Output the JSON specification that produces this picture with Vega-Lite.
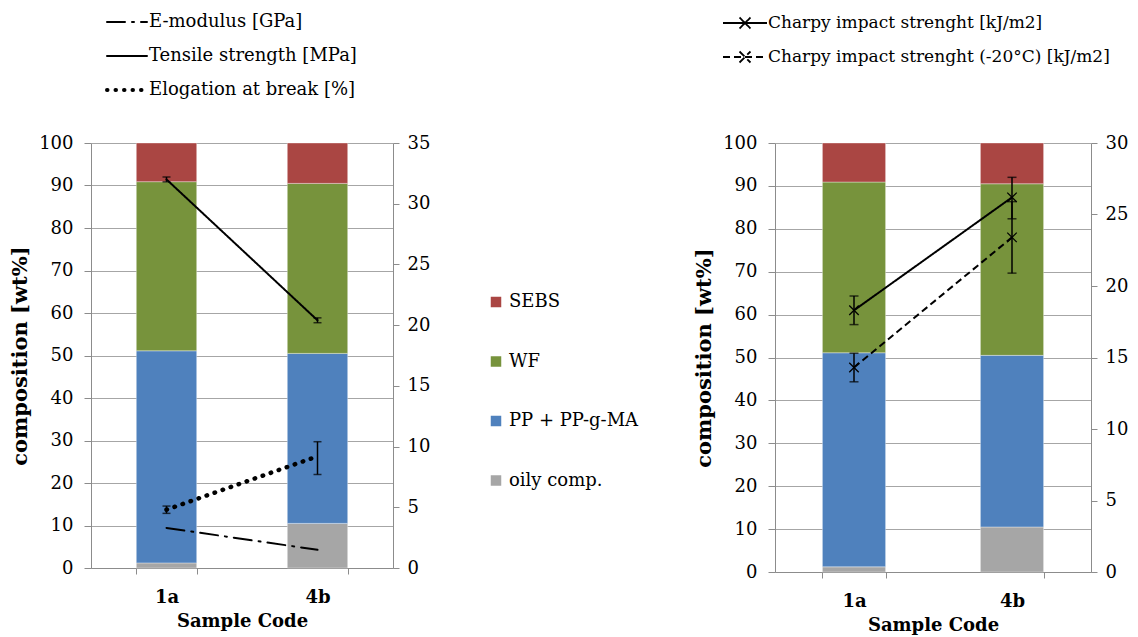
{
  "$schema": "https://vega.github.io/schema/vega-lite/v6.json",
  "padding": {"left": 9, "top": 11, "right": 5, "bottom": 5},
  "background": "white",
  "config": {
    "font": "DejaVu Serif",
    "view": {"stroke": null},
    "axis": {
      "domainColor": "#8c8c8c", "tickColor": "#8c8c8c", "gridColor": "#a6a6a6",
      "labelColor": "black", "titleColor": "black",
      "labelFont": "DejaVu Serif",
      "titleFont": "DejaVu Serif",
      "labelFontSize": 18, "titleFontSize": 18, "titleFontWeight": "bold"
    },
    "legend": {"labelFont": "DejaVu Serif", "labelFontSize": 18, "labelColor": "black", "labelLimit": 500}
  },
  "datasets": {
    "comp": [
      {"sample": "1a", "component": "oily comp.", "value": 1.2, "rank": 1},
      {"sample": "1a", "component": "PP + PP-g-MA", "value": 49.9, "rank": 2},
      {"sample": "1a", "component": "WF", "value": 39.8, "rank": 3},
      {"sample": "1a", "component": "SEBS", "value": 9.1, "rank": 4},
      {"sample": "4b", "component": "oily comp.", "value": 10.5, "rank": 1},
      {"sample": "4b", "component": "PP + PP-g-MA", "value": 40.0, "rank": 2},
      {"sample": "4b", "component": "WF", "value": 40.0, "rank": 3},
      {"sample": "4b", "component": "SEBS", "value": 9.5, "rank": 4}
    ],
    "mech": [
      {"series": "E-modulus [GPa]", "sample": "1a", "value": 3.3, "lo": null, "hi": null},
      {"series": "E-modulus [GPa]", "sample": "4b", "value": 1.5, "lo": null, "hi": null},
      {"series": "Tensile strength [MPa]", "sample": "1a", "value": 32.0, "lo": 31.8, "hi": 32.2},
      {"series": "Tensile strength [MPa]", "sample": "4b", "value": 20.4, "lo": 20.2, "hi": 20.6},
      {"series": "Elogation at break [%]", "sample": "1a", "value": 4.8, "lo": 4.5, "hi": 5.1},
      {"series": "Elogation at break [%]", "sample": "4b", "value": 9.2, "lo": 7.7, "hi": 10.4}
    ],
    "charpy": [
      {"series": "Charpy impact strenght [kJ/m2]", "sample": "1a", "value": 18.3, "lo": 17.3, "hi": 19.3},
      {"series": "Charpy impact strenght [kJ/m2]", "sample": "4b", "value": 26.2, "lo": 24.7, "hi": 27.6},
      {"series": "Charpy impact strenght (-20°C) [kJ/m2]", "sample": "1a", "value": 14.3, "lo": 13.3, "hi": 15.3},
      {"series": "Charpy impact strenght (-20°C) [kJ/m2]", "sample": "4b", "value": 23.4, "lo": 20.9, "hi": 25.9}
    ]
  },
  "bounds": "flush",
  "spacing": 382,
  "resolve": {
    "scale": {"x": "independent", "y": "independent", "color": "independent", "strokeDash": "independent"},
    "legend": {"color": "independent", "strokeDash": "independent"}
  },
  "hconcat": [
    {
      "width": 302,
      "height": 425,
      "encoding": {
        "x": {
          "field": "sample", "type": "nominal",
          "scale": {"paddingInner": 0.6, "paddingOuter": 0.3},
          "axis": {"title": "Sample Code", "labelAngle": 0, "labelFontWeight": "bold", "labelFontSize": 18, "tickBand": "extent", "tickSize": 6, "labelPadding": 14, "titlePadding": 6}
        }
      },
      "layer": [
        {
          "data": {"name": "comp"},
          "mark": {"type": "bar", "stroke": "white", "strokeWidth": 0.6, "strokeOpacity": 0.6},
          "encoding": {
            "y": {
              "field": "value", "type": "quantitative", "stack": "zero",
              "scale": {"domain": [0, 100]},
              "axis": {"values": [0, 10, 20, 30, 40, 50, 60, 70, 80, 90, 100], "grid": true, "tickSize": 7, "labelPadding": 11, "title": "composition [wt%]", "titleFontSize": 21, "titlePadding": 8}
            },
            "color": {
              "field": "component", "type": "nominal",
              "scale": {"domain": ["SEBS", "WF", "PP + PP-g-MA", "oily comp."], "range": ["#aa4643", "#77933c", "#4f81bd", "#a6a6a6"]},
              "legend": {"orient": "none", "legendX": 396, "legendY": 150, "title": null, "symbolType": "square", "symbolSize": 144, "rowPadding": 41.5, "labelOffset": 4}
            },
            "order": {"field": "rank", "type": "quantitative"}
          }
        },
        {
          "data": {"name": "mech"},
          "layer": [
            {
              "mark": {"type": "line", "color": "black", "strokeCap": "round", "strokeWidth": 2},
              "encoding": {
                "y": {"field": "value", "type": "quantitative", "scale": {"domain": [0, 35]},
                  "axis": {"orient": "right", "title": null, "grid": false, "values": [0, 5, 10, 15, 20, 25, 30, 35], "tickSize": 6, "labelPadding": 8}},
                "strokeDash": {
                  "field": "series", "type": "nominal",
                  "scale": {"domain": ["E-modulus [GPa]", "Tensile strength [MPa]", "Elogation at break [%]"], "range": [[18, 7, 2, 7], [1, 0], [0.5, 8]]},
                  "legend": {"orient": "none", "legendX": 27, "legendY": -130, "title": null, "symbolType": "M-2,0H2", "symbolSize": 400, "symbolStrokeColor": "black", "symbolFillColor": "transparent", "symbolStrokeWidth": 2.5, "rowPadding": 16, "labelOffset": 13,
                    "encode": {"symbols": {"update": {"strokeCap": {"value": "round"}, "strokeWidth": {"signal": "datum.value === 'Elogation at break [%]' ? 4 : 2"}}}}}
                }
              }
            },
            {
              "transform": [{"filter": "datum.series === 'Elogation at break [%]'"}],
              "mark": {"type": "line", "color": "black", "strokeCap": "round", "strokeWidth": 4.5, "strokeDash": [0.5, 8]},
              "encoding": {
                "y": {"field": "value", "type": "quantitative", "axis": {"orient": "right", "title": null, "grid": false, "values": [0, 5, 10, 15, 20, 25, 30, 35], "tickSize": 6, "labelPadding": 8}}
              }
            },
            {
              "transform": [{"filter": "isValid(datum.lo)"}],
              "mark": {"type": "rule", "color": "black", "strokeWidth": 1.5},
              "encoding": {
                "y": {"field": "lo", "type": "quantitative", "axis": {"orient": "right", "title": null, "grid": false, "values": [0, 5, 10, 15, 20, 25, 30, 35], "tickSize": 6, "labelPadding": 8}},
                "y2": {"field": "hi"}
              }
            },
            {
              "transform": [{"filter": "isValid(datum.lo)"}],
              "mark": {"type": "tick", "orient": "horizontal", "color": "black", "size": 8, "thickness": 1.5},
              "encoding": {
                "y": {"field": "lo", "type": "quantitative", "axis": {"orient": "right", "title": null, "grid": false, "values": [0, 5, 10, 15, 20, 25, 30, 35], "tickSize": 6, "labelPadding": 8}}
              }
            },
            {
              "transform": [{"filter": "isValid(datum.lo)"}],
              "mark": {"type": "tick", "orient": "horizontal", "color": "black", "size": 8, "thickness": 1.5},
              "encoding": {
                "y": {"field": "hi", "type": "quantitative", "axis": {"orient": "right", "title": null, "grid": false, "values": [0, 5, 10, 15, 20, 25, 30, 35], "tickSize": 6, "labelPadding": 8}}
              }
            }
          ]
        }
      ],
      "resolve": {"scale": {"y": "independent"}}
    },
    {
      "width": 316,
      "height": 429,
      "encoding": {
        "x": {
          "field": "sample", "type": "nominal",
          "scale": {"paddingInner": 0.6, "paddingOuter": 0.3},
          "axis": {"title": "Sample Code", "labelAngle": 0, "labelFontWeight": "bold", "labelFontSize": 18, "tickBand": "extent", "tickSize": 6, "labelPadding": 14, "titlePadding": 6}
        }
      },
      "layer": [
        {
          "data": {"name": "comp"},
          "mark": {"type": "bar", "stroke": "white", "strokeWidth": 0.6, "strokeOpacity": 0.6},
          "encoding": {
            "y": {
              "field": "value", "type": "quantitative", "stack": "zero",
              "scale": {"domain": [0, 100]},
              "axis": {"values": [0, 10, 20, 30, 40, 50, 60, 70, 80, 90, 100], "grid": true, "tickSize": 7, "labelPadding": 11, "title": "composition [wt%]", "titleFontSize": 21, "titlePadding": 8}
            },
            "color": {
              "field": "component", "type": "nominal",
              "scale": {"domain": ["SEBS", "WF", "PP + PP-g-MA", "oily comp."], "range": ["#aa4643", "#77933c", "#4f81bd", "#a6a6a6"]},
              "legend": null
            },
            "order": {"field": "rank", "type": "quantitative"}
          }
        },
        {
          "data": {"name": "charpy"},
          "layer": [
            {
              "mark": {"type": "line", "color": "black", "strokeWidth": 2},
              "encoding": {
                "y": {"field": "value", "type": "quantitative", "scale": {"domain": [0, 30]},
                  "axis": {"orient": "right", "title": null, "grid": false, "values": [0, 5, 10, 15, 20, 25, 30], "tickSize": 6, "labelPadding": 8}},
                "strokeDash": {
                  "field": "series", "type": "nominal",
                  "scale": {"domain": ["Charpy impact strenght [kJ/m2]", "Charpy impact strenght (-20°C) [kJ/m2]"], "range": [[1, 0], [7, 4]]},
                  "legend": {"orient": "none", "legendX": -42, "legendY": -132, "title": null, "symbolType": "M-2,0H2M-0.5,-0.5L0.5,0.5M-0.5,0.5L0.5,-0.5", "symbolSize": 484, "symbolStrokeColor": "black", "symbolFillColor": "transparent", "symbolStrokeWidth": 1.8, "rowPadding": 12, "labelOffset": 11, "labelFontSize": 17}
                }
              }
            },
            {
              "mark": {"type": "point", "shape": "M-1,-1L1,1M-1,1L1,-1", "filled": false, "color": "black", "size": 90, "strokeWidth": 1.3, "opacity": 1},
              "encoding": {
                "y": {"field": "value", "type": "quantitative", "axis": {"orient": "right", "title": null, "grid": false, "values": [0, 5, 10, 15, 20, 25, 30], "tickSize": 6, "labelPadding": 8}}
              }
            },
            {
              "mark": {"type": "rule", "color": "black", "strokeWidth": 1.5},
              "encoding": {
                "y": {"field": "lo", "type": "quantitative", "axis": {"orient": "right", "title": null, "grid": false, "values": [0, 5, 10, 15, 20, 25, 30], "tickSize": 6, "labelPadding": 8}},
                "y2": {"field": "hi"}
              }
            },
            {
              "mark": {"type": "tick", "orient": "horizontal", "color": "black", "size": 9, "thickness": 1.5},
              "encoding": {
                "y": {"field": "lo", "type": "quantitative", "axis": {"orient": "right", "title": null, "grid": false, "values": [0, 5, 10, 15, 20, 25, 30], "tickSize": 6, "labelPadding": 8}}
              }
            },
            {
              "mark": {"type": "tick", "orient": "horizontal", "color": "black", "size": 9, "thickness": 1.5},
              "encoding": {
                "y": {"field": "hi", "type": "quantitative", "axis": {"orient": "right", "title": null, "grid": false, "values": [0, 5, 10, 15, 20, 25, 30], "tickSize": 6, "labelPadding": 8}}
              }
            }
          ]
        }
      ],
      "resolve": {"scale": {"y": "independent"}}
    }
  ]
}
